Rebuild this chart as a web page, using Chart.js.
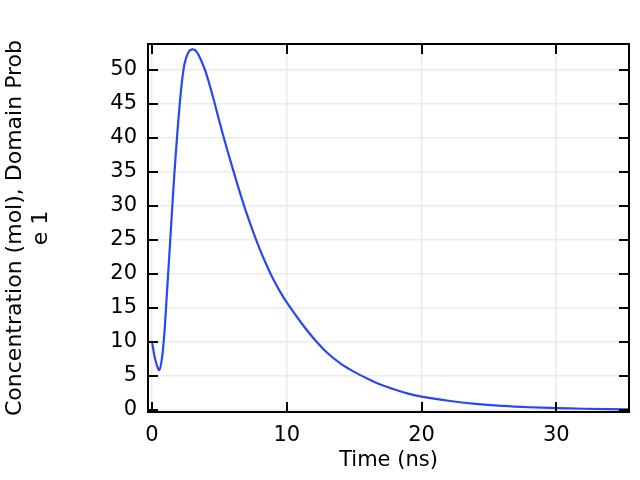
<!DOCTYPE html>
<html>
<head>
<meta charset="utf-8">
<script src="https://cdn.jsdelivr.net/npm/chart.js@4.4.1/dist/chart.umd.min.js"></script>
<style>
  html, body { margin: 0; padding: 0; background: #fff; }
  #wrap { width: 640px; height: 480px; }
</style>
</head>
<body>
<div id="wrap"><canvas id="conc" width="640" height="480"></canvas></div>
<script>
// values
const timeNs = [0, 0.25, 0.54, 0.75, 0.92, 1.1, 1.29, 1.5, 1.66, 1.85, 2.04, 2.2, 2.41, 2.7, 2.98,
  3.25, 3.5, 3.75, 4, 4.5, 5, 5.5, 6, 6.5, 7, 7.5, 8, 8.5, 9, 9.5, 10, 11, 12, 13, 14, 15, 16, 17,
  18, 19, 20, 22, 24, 26, 28, 30, 32, 35.4];
const concentration = [10, 7.3, 5.85, 7.8, 11.4, 17, 23, 29.8, 34.8, 40, 44.6, 47.9, 50.9, 52.6, 53,
  52.8, 52.0, 50.9, 49.6, 46.2, 42.4, 38.8, 35.4, 32.1, 29.0, 26.2, 23.6, 21.3, 19.2, 17.4, 15.8, 13.0, 10.5,
  8.4, 6.8, 5.6, 4.6, 3.7, 3.0, 2.4, 1.95, 1.35, 0.9, 0.6, 0.4, 0.27, 0.18, 0.1];

const xTicks = [0, 10, 20, 30];
const yTicks = [0, 5, 10, 15, 20, 25, 30, 35, 40, 45, 50];

const font = { family: 'DejaVu Sans', size: 21 };

// box round the plot and tick marks pointing inward on all four sides
const frame = {
    id: 'frame',
    afterDraw(chart) {
        const { ctx, chartArea: a, scales } = chart;
        ctx.save();
        ctx.strokeStyle = '#000';
        ctx.lineWidth = 2;
        ctx.beginPath();
        xTicks.forEach(v => {
            const px = Math.round(scales.x.getPixelForValue(v));
            ctx.moveTo(px, a.bottom); ctx.lineTo(px, a.bottom - 10);
            ctx.moveTo(px, a.top); ctx.lineTo(px, a.top + 10);
        });
        yTicks.forEach(v => {
            const py = Math.round(scales.y.getPixelForValue(v));
            ctx.moveTo(a.left, py); ctx.lineTo(a.left + 10, py);
            ctx.moveTo(a.right, py); ctx.lineTo(a.right - 10, py);
        });
        ctx.stroke();
        ctx.strokeRect(a.left, a.top, a.right - a.left, a.bottom - a.top);
        ctx.restore();
    }
};

new Chart(document.getElementById('conc'), {
    type: 'scatter',
    data: {
        datasets: [{
            data: timeNs.map((t, i) => ({ x: t, y: concentration[i] })),
            showLine: true,
            borderColor: 'rgb(40, 72, 240)',
            borderWidth: 2.2,
            pointRadius: 0,
            tension: 0.3,
            fill: false
        }]
    },
    options: {
        responsive: false,
        animation: false,
        layout: { padding: { top: 44, right: 11, left: 0, bottom: 0 } },
        plugins: { legend: { display: false }, tooltip: { enabled: false } },
        scales: {
            x: {
                type: 'linear',
                min: -0.3,
                max: 35.4,
                afterBuildTicks: s => { s.ticks = xTicks.map(v => ({ value: v })); },
                afterFit: s => { s.height = 68; },
                grid: { color: '#ebebeb', lineWidth: 1.5, drawTicks: false },
                border: { display: false },
                ticks: { color: '#000', font, padding: 11, maxRotation: 0 },
                title: { display: true, text: 'Time (ns)', color: '#000', font, padding: { top: 0, bottom: 7 } }
            },
            y: {
                min: -0.3,
                max: 53.8,
                afterBuildTicks: s => { s.ticks = yTicks.map(v => ({ value: v })); },
                afterFit: s => { s.width = 148; },
                grid: { color: '#ebebeb', lineWidth: 1.5, drawTicks: false },
                border: { display: false },
                ticks: { color: '#000', font, padding: 11 },
                title: {
                    display: true,
                    text: ['Concentration (mol), Domain Prob', 'e 1'],
                    color: '#000',
                    font: { family: 'DejaVu Sans', size: 22 },
                    padding: { top: 2, bottom: 0 }
                }
            }
        }
    },
    plugins: [frame]
});
</script>
</body>
</html>
